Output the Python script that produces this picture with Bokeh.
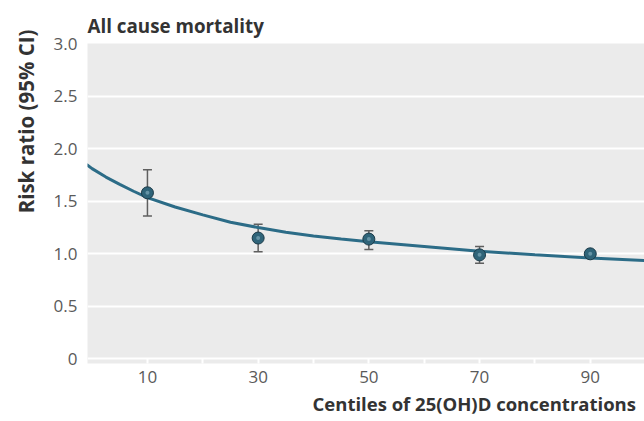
from bokeh.plotting import figure
from bokeh.models import ColumnDataSource, Whisker, FixedTicker, Title, Range1d, TeeHead
from bokeh.embed import file_html
from bokeh.resources import INLINE

# ---- data ----
centiles = [10, 30, 50, 70, 90]
risk_ratio = [1.58, 1.15, 1.14, 0.99, 1.00]
ci_centiles = [10, 30, 50, 70]
ci_lower = [1.36, 1.02, 1.04, 0.91]
ci_upper = [1.80, 1.28, 1.22, 1.07]

curve_x = [-1, 0, 2.5, 5, 7.5, 10, 15, 20, 25, 30, 35, 40, 45, 50, 60, 70, 80, 90, 100, 101]
curve_y = [1.85, 1.81, 1.73, 1.66, 1.595, 1.535, 1.445, 1.37, 1.30, 1.25, 1.205, 1.17, 1.14, 1.115,
           1.07, 1.025, 0.99, 0.96, 0.935, 0.932]

y_ticks = [0, 0.5, 1.0, 1.5, 2.0, 2.5, 3.0]
y_tick_labels = ["0", "0.5", "1.0", "1.5", "2.0", "2.5", "3.0"]
x_major = [10, 30, 50, 70, 90]
x_minor = [20, 40, 60, 80]

title_text = "All cause mortality"
y_label = "Risk ratio (95% CI)"
x_label = "Centiles of 25(OH)D concentrations"

FONT = "Open Sans"

p = figure(width=644, height=421, output_backend="svg", toolbar_location=None,
           x_range=Range1d(-0.83, 99.8), y_range=Range1d(-0.043, 3.0),
           min_border_left=87, min_border_right=0, min_border_top=43, min_border_bottom=58)
p.title = None
p.outline_line_color = None
p.border_fill_color = "white"
p.background_fill_color = "#ebebeb"

# title
t = Title(text=title_text, text_font=FONT, text_font_size="18.8px", text_font_style="bold",
          text_color="#333333", align="left", offset=0, standoff=10)
p.add_layout(t, "above")

# y label as left title, aligned to the top of the frame
yl = Title(text=y_label, text_font=FONT, text_font_size="20.5px", text_font_style="bold",
           text_color="#333333", align="right", vertical_align="top", offset=-14, standoff=17)
p.add_layout(yl, "left")

# x label as below title
xl = Title(text=x_label, text_font=FONT, text_font_size="18.5px", text_font_style="bold",
           text_color="#333333", align="left", offset=225, standoff=7)
p.add_layout(xl, "below")

# grid
p.xgrid.grid_line_color = None
p.ygrid.ticker = FixedTicker(ticks=y_ticks)
p.ygrid.grid_line_color = "white"
p.ygrid.grid_line_width = 2

# axes
p.yaxis.ticker = FixedTicker(ticks=y_ticks)
p.yaxis.major_label_overrides = {v: s for v, s in zip(y_ticks, y_tick_labels)}
p.yaxis.axis_line_color = None
p.yaxis.major_tick_line_color = None
p.yaxis.minor_tick_line_color = None
p.yaxis.major_label_text_font = FONT
p.yaxis.major_label_text_font_size = "17px"
p.yaxis.major_label_text_color = "#5a5a5a"
p.yaxis.major_label_standoff = 4

p.xaxis.ticker = FixedTicker(ticks=x_major, minor_ticks=x_minor)
p.xaxis.axis_line_color = None
p.xaxis.major_tick_line_color = "white"
p.xaxis.major_tick_line_width = 2
p.xaxis.major_tick_in = 5
p.xaxis.major_tick_out = 0
p.xaxis.minor_tick_line_color = "white"
p.xaxis.minor_tick_line_width = 2
p.xaxis.minor_tick_in = 5
p.xaxis.minor_tick_out = 0
p.xaxis.major_label_text_font = FONT
p.xaxis.major_label_text_font_size = "17px"
p.xaxis.major_label_text_color = "#5a5a5a"
p.xaxis.major_label_standoff = 7

# curve
p.line(curve_x, curve_y, line_color="#2c6c87", line_width=3)

# error bars
ci_src = ColumnDataSource(dict(x=ci_centiles, lower=ci_lower, upper=ci_upper))
w = Whisker(source=ci_src, base="x", lower="lower", upper="upper",
            line_color="#5f5f5f", line_width=1.5,
            lower_head=TeeHead(size=9, line_color="#5f5f5f", line_width=1.5),
            upper_head=TeeHead(size=9, line_color="#5f5f5f", line_width=1.5))
p.add_layout(w)

# points
p.scatter(centiles, risk_ratio, size=12, fill_color="#2f6479", line_color="#1b3a48", line_width=1)
p.scatter(centiles, risk_ratio, size=4, fill_color="#9cc4d4", line_color=None, fill_alpha=0.5)

open("out.html", "w").write(file_html(p, INLINE))
